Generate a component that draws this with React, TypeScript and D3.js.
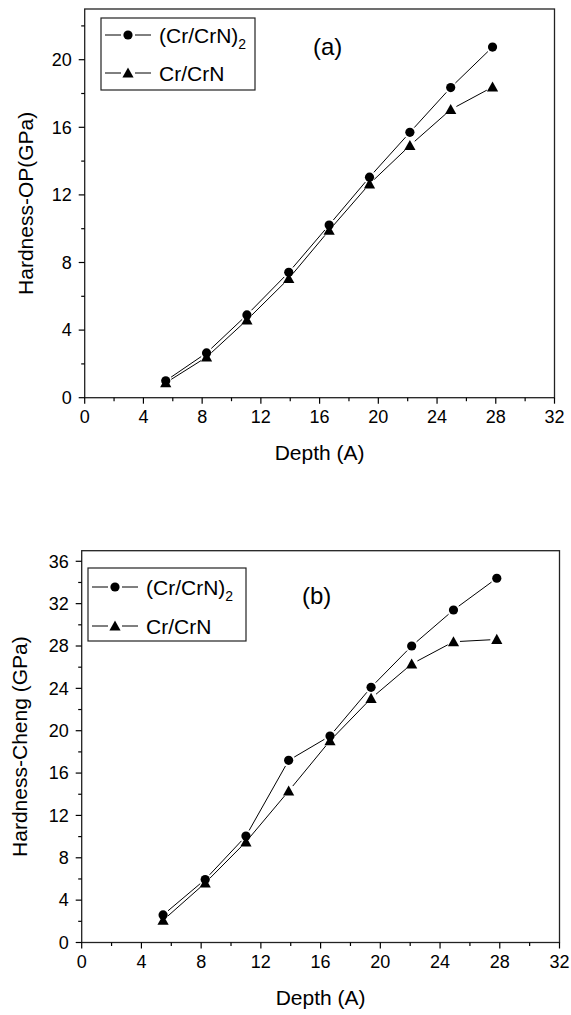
import React from "react";
import * as d3 from "d3";

// ---------- data ----------
const depthA: number[] = [5.52, 8.3, 11.05, 13.9, 16.65, 19.4, 22.15, 24.93, 27.78];
const opMultilayer: number[] = [1.0, 2.65, 4.9, 7.42, 10.22, 13.05, 15.7, 18.35, 20.75];
const opSingle: number[] = [0.88, 2.4, 4.6, 7.05, 9.9, 12.65, 14.92, 17.05, 18.38];
const depthB: number[] = [5.45, 8.27, 11.0, 13.86, 16.63, 19.38, 22.1, 24.9, 27.8];
const chengMultilayer: number[] = [2.6, 5.95, 10.05, 17.2, 19.5, 24.1, 28.0, 31.4, 34.4];
const chengSingle: number[] = [2.1, 5.62, 9.5, 14.3, 19.05, 23.05, 26.3, 28.4, 28.62];
const xTickValues: number[] = [0, 4, 8, 12, 16, 20, 24, 28, 32];
const xMinorValues: number[] = [2, 6, 10, 14, 18, 22, 26, 30];
const opTickValues: number[] = [0, 4, 8, 12, 16, 20];
const opMinorValues: number[] = [2, 6, 10, 14, 18, 22];
const chengTickValues: number[] = [0, 4, 8, 12, 16, 20, 24, 28, 32, 36];
const chengMinorValues: number[] = [2, 6, 10, 14, 18, 22, 26, 30, 34];
const seriesMultiName = "(Cr/CrN)";
const seriesMultiSub = "2";
const seriesSingleName = "Cr/CrN";
const xTitle = "Depth (A)";

const FONT = "'Liberation Sans', Arial, Helvetica, sans-serif";

type Box = { x: number; y: number; w: number; h: number };

function Circle({ cx, cy }: { cx: number; cy: number }) {
  return <circle cx={cx} cy={cy} r={4.6} fill="#000" />;
}
function Tri({ cx, cy }: { cx: number; cy: number }) {
  const s = 5.6;
  const path = d3.path();
  path.moveTo(cx, cy - s);
  path.lineTo(cx + s * 1.0, cy + s * 0.8);
  path.lineTo(cx - s * 1.0, cy + s * 0.8);
  path.closePath();
  return <path d={path.toString()} fill="#000" />;
}

function GappedLine({ pts, gap }: { pts: [number, number][]; gap: number }) {
  const segs: string[] = [];
  for (let i = 0; i < pts.length - 1; i++) {
    const [x1, y1] = pts[i];
    const [x2, y2] = pts[i + 1];
    const dx = x2 - x1, dy = y2 - y1;
    const L = Math.hypot(dx, dy);
    if (L <= 2 * gap) continue;
    const ux = dx / L, uy = dy / L;
    const p = d3.path();
    p.moveTo(x1 + ux * gap, y1 + uy * gap);
    p.lineTo(x2 - ux * gap, y2 - uy * gap);
    segs.push(p.toString());
  }
  return (
    <g>
      {segs.map((d, i) => (
        <path key={i} d={d} stroke="#000" strokeWidth={1} fill="none" />
      ))}
    </g>
  );
}

function Panel(props: {
  left: number; right: number; top: number; bottom: number;
  yMax: number; yTicks: number[]; yMinor: number[];
  xs: number[]; multi: number[]; single: number[];
  label: string; labelX: number; labelY: number;
  yTitle: string; yTitleX: number;
  legend: Box; row1: number; row2: number;
}) {
  const { left, right, top, bottom, yMax, yTicks, yMinor, xs, multi, single, label, labelX, labelY, yTitle, yTitleX, legend, row1, row2 } = props;
  const x = d3.scaleLinear().domain([0, 32]).range([left, right]);
  const y = d3.scaleLinear().domain([0, yMax]).range([bottom, top]);
  const multiPts: [number, number][] = xs.map((d, i) => [x(d), y(multi[i])]);
  const singlePts: [number, number][] = xs.map((d, i) => [x(d), y(single[i])]);
  const lx1 = legend.x + 4, lx2 = legend.x + 50, lm = legend.x + 27;
  return (
    <g fontFamily={FONT}>
      <rect x={left} y={top} width={right - left} height={bottom - top} fill="none" stroke="#222" strokeWidth={1.3} />
      {xTickValues.map((t) => (
        <g key={"xt" + t}>
          <line x1={x(t)} x2={x(t)} y1={bottom} y2={bottom + 6} stroke="#000" strokeWidth={1.2} />
          <text x={x(t)} y={bottom + 25} fontSize={18} textAnchor="middle">{t}</text>
        </g>
      ))}
      {xMinorValues.map((t) => (
        <line key={"xm" + t} x1={x(t)} x2={x(t)} y1={bottom} y2={bottom + 3.5} stroke="#000" strokeWidth={1.2} />
      ))}
      {yTicks.map((t) => (
        <g key={"yt" + t}>
          <line x1={left - 6} x2={left} y1={y(t)} y2={y(t)} stroke="#000" strokeWidth={1.2} />
          <text x={left - 13} y={y(t) + 6.3} fontSize={18} textAnchor="end">{t}</text>
        </g>
      ))}
      {yMinor.filter((t) => t < yMax).map((t) => (
        <line key={"ym" + t} x1={left - 3.5} x2={left} y1={y(t)} y2={y(t)} stroke="#000" strokeWidth={1.2} />
      ))}
      <text x={(left + right) / 2} y={bottom + 62} fontSize={21} textAnchor="middle">{xTitle}</text>
      <text transform={`translate(${yTitleX},${(top + bottom) / 2}) rotate(-90)`} fontSize={21} textAnchor="middle">{yTitle}</text>
      <GappedLine pts={multiPts} gap={6.5} />
      <GappedLine pts={singlePts} gap={6.5} />
      {multiPts.map(([cx, cy], i) => <Circle key={"c" + i} cx={cx} cy={cy} />)}
      {singlePts.map(([cx, cy], i) => <Tri key={"t" + i} cx={cx} cy={cy} />)}
      <text x={labelX} y={labelY} fontSize={24}>{label}</text>
      <rect x={legend.x} y={legend.y} width={legend.w} height={legend.h} fill="#fff" stroke="#222" strokeWidth={1.2} />
      <line x1={lx1} x2={lm - 7} y1={row1} y2={row1} stroke="#000" strokeWidth={1} />
      <line x1={lm + 7} x2={lx2} y1={row1} y2={row1} stroke="#000" strokeWidth={1} />
      <Circle cx={lm} cy={row1} />
      <text x={legend.x + 58} y={row1 + 7.5} fontSize={21}>
        {seriesMultiName}
        <tspan fontSize={14} dy={6}>{seriesMultiSub}</tspan>
      </text>
      <line x1={lx1} x2={lm - 7} y1={row2} y2={row2} stroke="#000" strokeWidth={1} />
      <line x1={lm + 7} x2={lx2} y1={row2} y2={row2} stroke="#000" strokeWidth={1} />
      <Tri cx={lm} cy={row2} />
      <text x={legend.x + 58} y={row2 + 7.5} fontSize={21}>{seriesSingleName}</text>
    </g>
  );
}

export default function App() {
  return (
    <svg width={571} height={1015} style={{ position: "absolute", left: 0, top: 0, background: "#fff" }}>
      <rect x={0} y={0} width={571} height={1015} fill="#fff" />
      <Panel
        left={84.7} right={554.5} top={9} bottom={397.7}
        yMax={23} yTicks={opTickValues} yMinor={opMinorValues}
        xs={depthA} multi={opMultilayer} single={opSingle}
        label="(a)" labelX={313} labelY={55}
        yTitle="Hardness-OP(GPa)" yTitleX={33}
        legend={{ x: 101, y: 18, w: 154, h: 72 }} row1={35} row2={73}
      />
      <Panel
        left={81.7} right={559.5} top={550.7} bottom={942.5}
        yMax={37} yTicks={chengTickValues} yMinor={chengMinorValues}
        xs={depthB} multi={chengMultilayer} single={chengSingle}
        label="(b)" labelX={302} labelY={604}
        yTitle="Hardness-Cheng (GPa)" yTitleX={27}
        legend={{ x: 88, y: 568, w: 158, h: 73 }} row1={587} row2={626}
      />
    </svg>
  );
}
